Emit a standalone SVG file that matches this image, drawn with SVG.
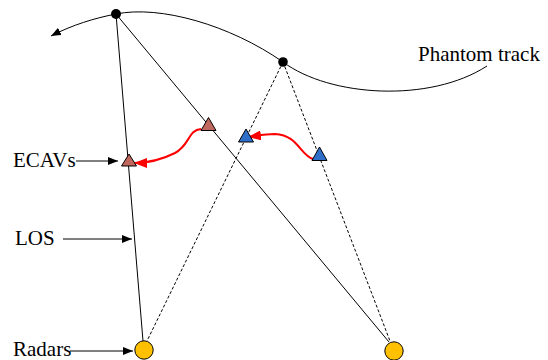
<svg xmlns="http://www.w3.org/2000/svg" width="548" height="360" viewBox="0 0 548 360">
<style>
.lbl{font-family:"Liberation Serif","Times New Roman",serif;font-size:21px;fill:#000}
.ln{stroke:#000;stroke-width:1;fill:none}
.dash{stroke:#000;stroke-width:1;fill:none;stroke-dasharray:3,2}
.red{stroke:#FF0000;stroke-width:2;fill:none}
.ecavr{fill:#C0675E;stroke:#000;stroke-width:1}
.ecavb{fill:#2F6FC9;stroke:#000;stroke-width:1}
.radar{fill:#FFC000;stroke:#000;stroke-width:1}
</style>
<defs>
<marker id="ab" viewBox="0 0 10 8" refX="10" refY="4" markerWidth="10" markerHeight="8" markerUnits="userSpaceOnUse" orient="auto">
<path d="M0,0 L10,4 L0,8 Z" fill="#000"/>
</marker>
<marker id="ar" viewBox="0 0 13 10" refX="13" refY="5" markerWidth="13" markerHeight="10" markerUnits="userSpaceOnUse" orient="auto">
<path d="M0,0 L13,5 L0,10 Z" fill="#FF0000"/>
</marker>
</defs>
<g id="connectors">
<path class="ln" d="M116,14 C160,5 230,25 283,62 C330,97 430,103 487,66"/>
<path class="ln" d="M116,14 C95,18 72,25 51,36" marker-end="url(#ab)"/>
<line class="ln" x1="116" y1="14" x2="143" y2="341"/>
<line class="ln" x1="116" y1="14" x2="389" y2="342"/>
<line class="dash" x1="283" y1="62" x2="147" y2="341"/>
<line class="dash" x1="283" y1="62" x2="390" y2="341"/>
<path class="red" d="M201,129 C188,130 190,145 175,153 C163,159 150,163 134,163" marker-end="url(#ar)"/>
<path class="red" d="M313,159 C300,155 298,135 275,134 C265,134 256,136 248,137" marker-end="url(#ar)"/>
<line class="ln" x1="76" y1="161" x2="118" y2="161" marker-end="url(#ab)"/>
<line class="ln" x1="63" y1="239" x2="132" y2="239" marker-end="url(#ab)"/>
<line class="ln" x1="70" y1="351" x2="133" y2="351" marker-end="url(#ab)"/>
</g>
<g id="pointA"><circle cx="116" cy="14" r="5" fill="#000"/></g>
<g id="pointB"><circle cx="283" cy="62" r="4.8" fill="#000"/></g>
<g id="ecav1"><polygon class="ecavr" points="129,154 136.5,166 121.5,166"/></g>
<g id="ecav2"><polygon class="ecavr" points="208.5,117.5 216,130.5 201,130.5"/></g>
<g id="ecav3"><polygon class="ecavb" points="246,129 253.5,142 238.5,142"/></g>
<g id="ecav4"><polygon class="ecavb" points="319.5,147 327,160.5 312,160.5"/></g>
<g id="radar1"><circle class="radar" cx="144" cy="350" r="9.2"/></g>
<g id="radar2"><circle class="radar" cx="394" cy="351" r="9.2"/></g>
<g id="labels">
<text class="lbl" x="418" y="61">Phantom track</text>
<text class="lbl" x="13" y="167">ECAVs</text>
<text class="lbl" x="15" y="245">LOS</text>
<text class="lbl" x="13" y="356">Radars</text>
</g>
</svg>
